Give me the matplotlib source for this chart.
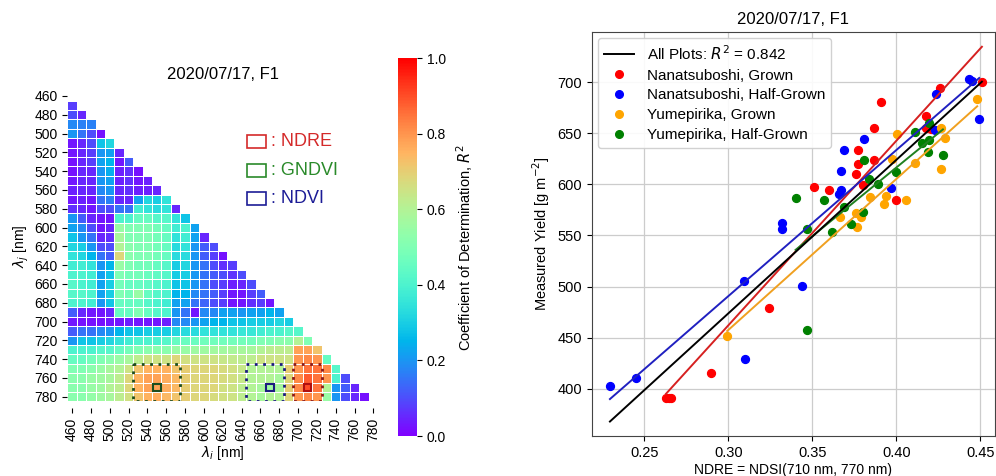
import numpy as np
import matplotlib
matplotlib.use('Agg')
import matplotlib.pyplot as plt
from matplotlib.patches import Rectangle
from matplotlib.lines import Line2D

plt.rcParams['font.family'] = ['Liberation Sans', 'DejaVu Sans']
plt.rcParams['font.size'] = 10

# wavelength grid of the NDSI map (nm)
wavelengths = list(range(460, 790, 10))

# R^2 of NDSI(lambda_i, lambda_j) vs yield, one row per lambda_j = 470 ... 780,
# values for lambda_i = 460 ... lambda_j - 10
r2_rows = [
    [0.08],
    [0.10, 0.05],
    [0.18, 0.17, 0.17],
    [0.20, 0.15, 0.10, 0.02],
    [0.03, 0.05, 0.10, 0.28, 0.32],
    [0.03, 0.05, 0.08, 0.20, 0.22, 0.05],
    [0.02, 0.05, 0.08, 0.22, 0.25, 0.03, 0.12],
    [0.02, 0.05, 0.05, 0.20, 0.24, 0.04, 0.06, 0.02],
    [0.03, 0.05, 0.05, 0.20, 0.22, 0.04, 0.06, 0.03, 0.04],
    [0.04, 0.05, 0.05, 0.18, 0.20, 0.05, 0.06, 0.04, 0.04, 0.05],
    [0.03, 0.04, 0.03, 0.15, 0.17, 0.05, 0.05, 0.22, 0.32, 0.30, 0.35],
    [0.06, 0.05, 0.03, 0.10, 0.10, 0.15, 0.15, 0.38, 0.35, 0.33, 0.35, 0.05],
    [0.20, 0.12, 0.05, 0.03, 0.03, 0.40, 0.40, 0.45, 0.45, 0.42, 0.42, 0.35, 0.28],
    [0.22, 0.18, 0.10, 0.03, 0.05, 0.55, 0.50, 0.50, 0.50, 0.48, 0.45, 0.38, 0.40, 0.22],
    [0.28, 0.20, 0.15, 0.05, 0.06, 0.58, 0.50, 0.50, 0.50, 0.48, 0.45, 0.35, 0.38, 0.22, 0.05],
    [0.32, 0.30, 0.20, 0.10, 0.10, 0.60, 0.52, 0.50, 0.50, 0.48, 0.45, 0.33, 0.35, 0.20, 0.12, 0.10],
    [0.35, 0.32, 0.25, 0.15, 0.12, 0.68, 0.52, 0.50, 0.50, 0.48, 0.45, 0.33, 0.33, 0.20, 0.12, 0.08, 0.02],
    [0.38, 0.38, 0.35, 0.20, 0.25, 0.55, 0.50, 0.48, 0.48, 0.45, 0.42, 0.30, 0.32, 0.20, 0.15, 0.10, 0.06, 0.08],
    [0.40, 0.40, 0.38, 0.22, 0.28, 0.50, 0.48, 0.48, 0.46, 0.44, 0.42, 0.30, 0.30, 0.20, 0.15, 0.12, 0.10, 0.07, 0.10],
    [0.42, 0.40, 0.38, 0.22, 0.30, 0.48, 0.45, 0.45, 0.44, 0.42, 0.40, 0.28, 0.28, 0.20, 0.15, 0.10, 0.08, 0.04, 0.05, 0.10],
    [0.42, 0.42, 0.40, 0.22, 0.30, 0.50, 0.48, 0.55, 0.45, 0.42, 0.40, 0.25, 0.25, 0.18, 0.15, 0.12, 0.08, 0.03, 0.03, 0.08, 0.12],
    [0.40, 0.40, 0.38, 0.20, 0.28, 0.45, 0.45, 0.45, 0.42, 0.40, 0.38, 0.22, 0.22, 0.15, 0.13, 0.10, 0.08, 0.03, 0.03, 0.06, 0.08, 0.03],
    [0.12, 0.05, 0.03, 0.03, 0.05, 0.45, 0.45, 0.50, 0.45, 0.42, 0.40, 0.20, 0.15, 0.03, 0.18, 0.18, 0.22, 0.22, 0.20, 0.22, 0.22, 0.25, 0.22],
    [0.03, 0.02, 0.02, 0.02, 0.03, 0.03, 0.04, 0.03, 0.03, 0.03, 0.04, 0.18, 0.18, 0.20, 0.22, 0.25, 0.25, 0.28, 0.28, 0.30, 0.30, 0.30, 0.32, 0.30],
    [0.12, 0.15, 0.15, 0.18, 0.20, 0.25, 0.28, 0.28, 0.30, 0.30, 0.30, 0.32, 0.33, 0.33, 0.35, 0.35, 0.35, 0.35, 0.36, 0.36, 0.38, 0.40, 0.40, 0.42, 0.42],
    [0.20, 0.28, 0.28, 0.30, 0.32, 0.35, 0.38, 0.40, 0.40, 0.40, 0.42, 0.45, 0.46, 0.46, 0.47, 0.47, 0.47, 0.48, 0.48, 0.48, 0.50, 0.50, 0.52, 0.52, 0.60, 0.50],
    [0.40, 0.40, 0.40, 0.42, 0.42, 0.45, 0.48, 0.50, 0.52, 0.52, 0.52, 0.55, 0.55, 0.56, 0.56, 0.57, 0.57, 0.58, 0.58, 0.58, 0.60, 0.62, 0.62, 0.62, 0.78, 0.78, 0.72],
    [0.45, 0.45, 0.48, 0.50, 0.52, 0.55, 0.58, 0.62, 0.65, 0.65, 0.65, 0.68, 0.66, 0.65, 0.65, 0.65, 0.64, 0.63, 0.62, 0.62, 0.65, 0.65, 0.65, 0.65, 0.80, 0.82, 0.80, 0.45],
    [0.50, 0.50, 0.52, 0.55, 0.58, 0.60, 0.65, 0.72, 0.75, 0.75, 0.75, 0.72, 0.70, 0.68, 0.68, 0.68, 0.67, 0.66, 0.64, 0.60, 0.60, 0.60, 0.60, 0.70, 0.80, 0.85, 0.85, 0.82, 0.42],
    [0.52, 0.52, 0.55, 0.56, 0.58, 0.62, 0.68, 0.75, 0.78, 0.78, 0.76, 0.74, 0.70, 0.68, 0.68, 0.68, 0.67, 0.66, 0.64, 0.60, 0.60, 0.60, 0.58, 0.68, 0.82, 0.88, 0.85, 0.80, 0.40, 0.10],
    [0.52, 0.52, 0.55, 0.56, 0.60, 0.62, 0.68, 0.75, 0.78, 0.78, 0.76, 0.74, 0.70, 0.68, 0.68, 0.68, 0.66, 0.65, 0.62, 0.60, 0.58, 0.56, 0.58, 0.70, 0.82, 0.90, 0.85, 0.60, 0.20, 0.12, 0.05],
    [0.52, 0.52, 0.54, 0.56, 0.58, 0.62, 0.66, 0.72, 0.75, 0.76, 0.74, 0.72, 0.70, 0.68, 0.68, 0.67, 0.66, 0.65, 0.62, 0.60, 0.58, 0.60, 0.60, 0.68, 0.80, 0.82, 0.80, 0.55, 0.20, 0.10, 0.05, 0.02],
]

# vegetation indices: (lambda_i, lambda_j) and the camera band ranges (nm)
index_names = ['NDRE', 'GNDVI', 'NDVI']
index_li = [710, 550, 670]
index_lj = [770, 770, 770]
band_i = [(700, 720), (530, 570), (650, 680)]
band_j = (750, 780)
index_colors = ['#d42a2a', '#2a8a2a', '#1c1c96']
box_colors = ['#8b1a1a', '#1e4d1e', '#1c1c80']

# scatter data: NDRE vs measured yield (g m^-2)
groups = ['Nanatsuboshi, Grown', 'Nanatsuboshi, Half-Grown',
          'Yumepirika, Grown', 'Yumepirika, Half-Grown']
group_colors = ['red', 'blue', 'orange', 'green']
line_colors = ['#d62020', '#2020c0', '#f0a020', '#208020']
ndre = [
    [0.451, 0.426, 0.418, 0.4175, 0.421, 0.391, 0.387, 0.377, 0.387, 0.377,
     0.376, 0.380, 0.351, 0.360, 0.400, 0.324, 0.290, 0.263, 0.265, 0.266],
    [0.4435, 0.445, 0.4494, 0.4236, 0.423, 0.381, 0.3692, 0.3671, 0.3671,
     0.366, 0.3968, 0.3438, 0.3093, 0.310, 0.2454, 0.2296, 0.3323, 0.3323],
    [0.4482, 0.4268, 0.4292, 0.4266, 0.4111, 0.3976, 0.4002, 0.3937, 0.3927,
     0.4061, 0.3843, 0.379, 0.3764, 0.3758, 0.3665, 0.2994],
    [0.4278, 0.4192, 0.4196, 0.4156, 0.4193, 0.4111, 0.381, 0.384, 0.3891,
     0.3996, 0.380, 0.3732, 0.357, 0.3401, 0.347, 0.3615, 0.3468, 0.369],
]
yield_ = [
    [700, 694, 667, 655, 654, 680, 655, 634, 624, 620,
     610, 599, 597, 594, 585, 479, 416, 391, 391, 391],
    [703, 701, 664, 688.6, 653.5, 644, 634, 613, 594,
     591, 596.5, 501, 506, 429, 411, 403, 562.4, 556],
    [683, 655.4, 645, 615.4, 621, 625, 649.6, 588.7, 581,
     585, 587.4, 568, 558.5, 572, 568, 451.7],
    [628.4, 631.7, 643, 640, 660, 651, 624, 605, 600.8,
     612, 573, 561, 584.5, 587, 556, 553, 458, 578],
]
r2_all = 0.842

fig = plt.figure(figsize=(9.96, 4.76), dpi=100)

# ---------------- left: NDSI R^2 map ----------------
n = len(wavelengths)
grid = np.full((n, n), np.nan)
for k, row in enumerate(r2_rows):
    grid[k + 1, :len(row)] = row
grid = np.ma.masked_invalid(grid)

ax1 = fig.add_axes([0.0676, 0.1567, 0.312, 0.6515])
edges = np.array(wavelengths + [wavelengths[-1] + 10]) - 5
mesh = ax1.pcolormesh(edges, edges, grid, cmap='rainbow', vmin=0, vmax=1,
                      edgecolors='white', linewidth=0.7)
ax1.set_xlim(edges[0], edges[-1])
ax1.set_ylim(edges[-1], edges[0])
for s in ax1.spines.values():
    s.set_visible(False)
ax1.spines['bottom'].set_position(('outward', 5))
ax1.set_xticks(wavelengths[::2])
ax1.set_yticks(wavelengths[::2])
ax1.tick_params(axis='x', labelrotation=90)
ax1.set_xlabel(r'$\lambda_i$ [nm]', labelpad=2)
ax1.set_ylabel(r'$\lambda_j$ [nm]', labelpad=2)
ax1.set_title('2020/07/17, F1', fontsize=12, pad=9)

for k in range(len(index_names)):
    lo, hi = band_i[k]
    ax1.add_patch(Rectangle((lo - 5, band_j[0] - 5), hi - lo + 10, band_j[1] - band_j[0] + 10,
                            fill=False, edgecolor=box_colors[k], linestyle=(0, (1, 2)),
                            linewidth=2.0, clip_on=True))
    ax1.add_patch(Rectangle((index_li[k] - 4, index_lj[k] - 4), 8, 8, fill=False,
                            edgecolor=box_colors[k] if k else '#b01010', linewidth=1.5))

# coloured key in the upper right empty corner
for k, name in enumerate(index_names):
    y0 = 0.816 - 0.092 * k
    ax1.add_patch(Rectangle((0.577, y0), 0.062, 0.043, transform=ax1.transAxes,
                            fill=False, edgecolor=index_colors[k], linewidth=1.2))
    ax1.text(0.655, y0 + 0.0215, ': ' + name, transform=ax1.transAxes,
             color=index_colors[k], fontsize=13, va='center', ha='left')

cax = fig.add_axes([0.3996, 0.084, 0.019, 0.7935])
cbar = fig.colorbar(mesh, cax=cax)
cbar.outline.set_visible(False)
cbar.set_ticks([0.0, 0.2, 0.4, 0.6, 0.8, 1.0])
cbar.set_label('Coefficient of Determination, $R^2$', fontsize=10.5, labelpad=6)

# ---------------- right: NDRE vs yield ----------------
ax2 = fig.add_axes([0.594, 0.084, 0.405, 0.849])
ax2.grid(True, color='#cccccc', linewidth=0.9)
ax2.set_axisbelow(True)

all_x = np.concatenate([np.array(v) for v in ndre])
all_y = np.concatenate([np.array(v) for v in yield_])

for k in range(len(groups)):
    ax2.scatter(ndre[k], yield_[k], s=32, color=group_colors[k], label=groups[k], zorder=2)
for k in range(len(groups)):
    xk = np.array(ndre[k])
    p = np.polyfit(xk, yield_[k], 1)
    xs = np.array([xk.min(), xk.max()])
    ax2.plot(xs, np.polyval(p, xs), color=line_colors[k], linewidth=1.4, zorder=3)
p = np.polyfit(all_x, all_y, 1)
xs = np.array([all_x.min(), all_x.max()])
ax2.plot(xs, np.polyval(p, xs), color='black', linewidth=1.4, zorder=3)

ax2.set_xlim(0.2187, 0.4588)
ax2.set_ylim(354, 749)
ax2.set_xticks([0.25, 0.30, 0.35, 0.40, 0.45])
ax2.set_yticks([400, 450, 500, 550, 600, 650, 700])
ax2.tick_params(labelsize=10.5)
ax2.set_xlabel('NDRE = NDSI(710 nm, 770 nm)', fontsize=10, labelpad=2)
ax2.set_ylabel('Measured Yield [g m$^{-2}$]', fontsize=10.5)
ax2.set_title('2020/07/17, F1', fontsize=12)
for s in ax2.spines.values():
    s.set_color('#444444')

handles = [Line2D([], [], color='black', linewidth=1.4)]
handles += [Line2D([], [], color=c, marker='o', linestyle='none', markersize=5.5) for c in group_colors]
labels = [f'All Plots: $R^2$ = {r2_all:.3f}'] + groups
ax2.legend(handles, labels, loc='upper left', fontsize=11, framealpha=0.9,
           borderaxespad=0.4, handlelength=2.0, labelspacing=0.38)

fig.savefig('out.png', dpi=100)
